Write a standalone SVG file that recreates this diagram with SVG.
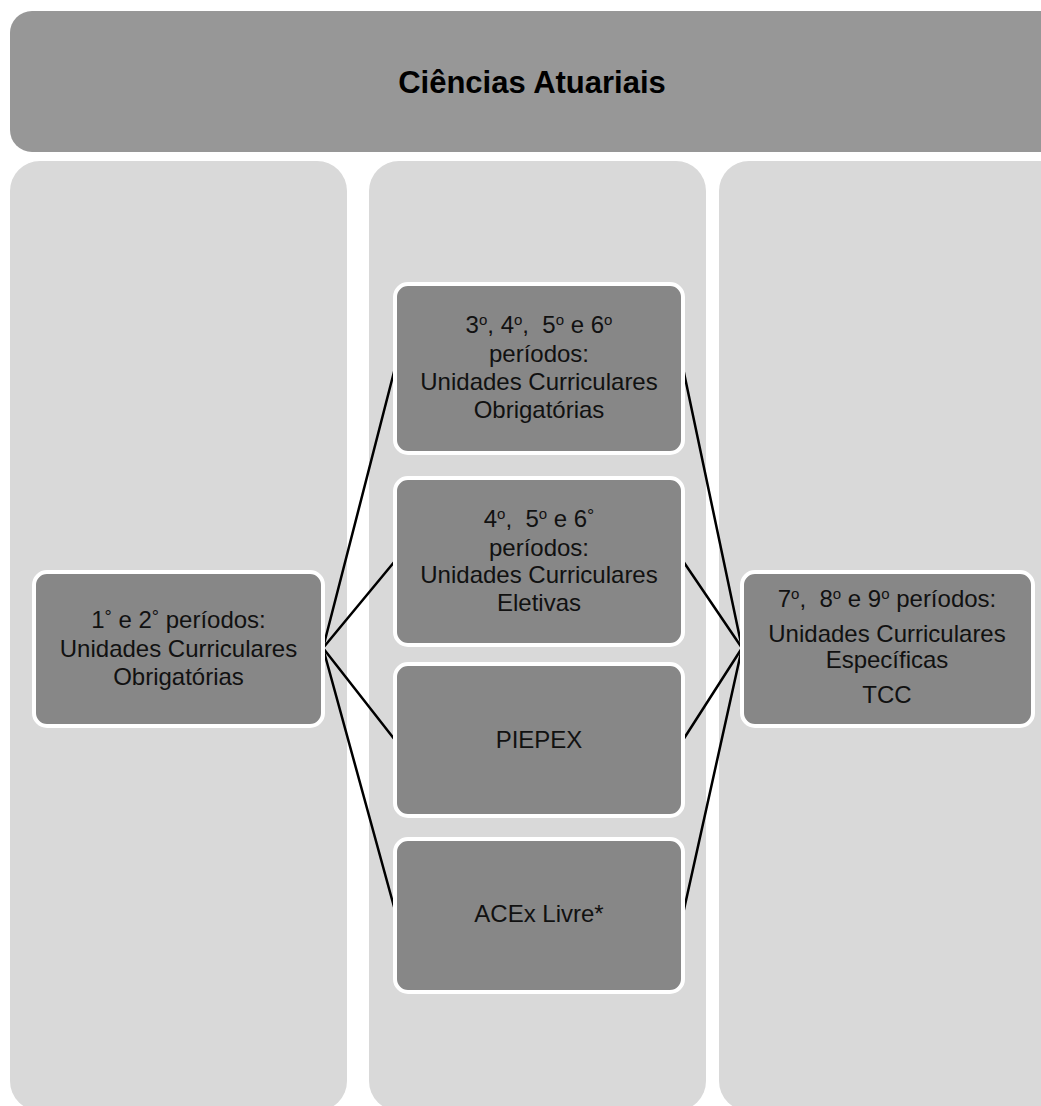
<svg xmlns="http://www.w3.org/2000/svg" width="1041" height="1106" viewBox="0 0 1041 1106">
<style>
.col{fill:#d9d9d9}
.box{fill:#878787;stroke:#ffffff;stroke-width:4}
.t{font-family:"Liberation Sans",Arial,sans-serif;font-size:24px;fill:#111;text-anchor:middle}
.h{font-family:"Liberation Sans",Arial,sans-serif;font-size:31px;font-weight:bold;fill:#000;text-anchor:middle}
.sup{font-size:15px}
.deg{font-size:18px}
.c line{stroke:#000;stroke-width:2.5;stroke-linecap:round}
</style>
<rect x="0" y="0" width="1041" height="1106" fill="#ffffff"/>
<g id="header">
<rect x="10" y="11" width="1060" height="141" rx="22" fill="#979797"/>
<text class="h" x="532" y="93">Ciências Atuariais</text>
</g>
<g id="columns">
<rect class="col" x="10" y="161" width="337" height="950" rx="30"/>
<rect class="col" x="369" y="161" width="337" height="950" rx="30"/>
<rect class="col" x="719" y="161" width="360" height="950" rx="30"/>
</g>
<g class="c" id="connectors">
<line x1="323" y1="648" x2="395" y2="368"/>
<line x1="323" y1="648" x2="395" y2="561"/>
<line x1="323" y1="648" x2="395" y2="740"/>
<line x1="323" y1="648" x2="396" y2="914"/>
<line x1="683" y1="368" x2="742" y2="648"/>
<line x1="683" y1="561" x2="742" y2="648"/>
<line x1="683" y1="740" x2="742" y2="648"/>
<line x1="683" y1="914" x2="742" y2="648"/>
</g>
<g id="node-1-2">
<rect class="box" x="34" y="572" width="289" height="154" rx="13"/>
<text class="t" x="178.5" y="628" xml:space="preserve">1<tspan class="deg" dy="-5">°</tspan><tspan dy="5"> e 2</tspan><tspan class="deg" dy="-5">°</tspan><tspan dy="5"> períodos:</tspan></text>
<text class="t" x="178.5" y="657">Unidades Curriculares</text>
<text class="t" x="178.5" y="685">Obrigatórias</text>
</g>
<g id="node-3-6">
<rect class="box" x="395" y="284" width="288" height="169" rx="13"/>
<text class="t" x="539" y="333" xml:space="preserve">3<tspan class="sup" dy="-8">o</tspan><tspan dy="8">, 4</tspan><tspan class="sup" dy="-8">o</tspan><tspan dy="8">,  5</tspan><tspan class="sup" dy="-8">o</tspan><tspan dy="8"> e 6</tspan><tspan class="sup" dy="-8">o</tspan></text>
<text class="t" x="539" y="362">períodos:</text>
<text class="t" x="539" y="390">Unidades Curriculares</text>
<text class="t" x="539" y="418">Obrigatórias</text>
</g>
<g id="node-eletivas">
<rect class="box" x="395" y="478" width="288" height="167" rx="13"/>
<text class="t" x="539" y="527" xml:space="preserve">4<tspan class="sup" dy="-8">o</tspan><tspan dy="8">,  5</tspan><tspan class="sup" dy="-8">o</tspan><tspan dy="8"> e 6</tspan><tspan class="deg" dy="-5">°</tspan></text>
<text class="t" x="539" y="556">períodos:</text>
<text class="t" x="539" y="583">Unidades Curriculares</text>
<text class="t" x="539" y="611">Eletivas</text>
</g>
<g id="node-piepex">
<rect class="box" x="395" y="664" width="288" height="152" rx="13"/>
<text class="t" x="539" y="748">PIEPEX</text>
</g>
<g id="node-acex">
<rect class="box" x="395" y="839" width="288" height="153" rx="13"/>
<text class="t" x="539" y="922">ACEx Livre*</text>
</g>
<g id="node-7-9">
<rect class="box" x="742" y="572" width="291" height="154" rx="13"/>
<text class="t" x="887" y="607" xml:space="preserve">7<tspan class="sup" dy="-8">o</tspan><tspan dy="8">,  8</tspan><tspan class="sup" dy="-8">o</tspan><tspan dy="8"> e 9</tspan><tspan class="sup" dy="-8">o</tspan><tspan dy="8"> períodos:</tspan></text>
<text class="t" x="887" y="642">Unidades Curriculares</text>
<text class="t" x="887" y="668">Específicas</text>
<text class="t" x="887" y="703">TCC</text>
</g>
</svg>
